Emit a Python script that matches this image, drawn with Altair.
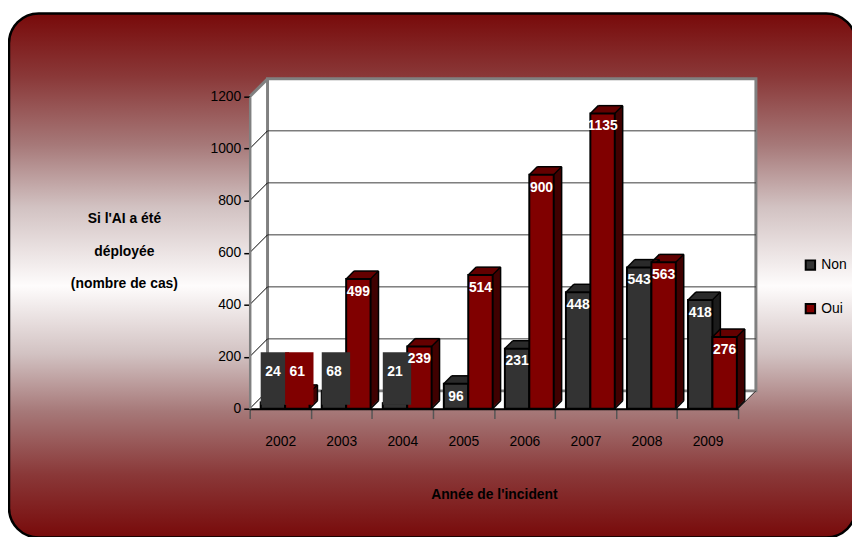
import json
import altair as alt
import pandas as pd

# ---------------- data ----------------
YEARS = ["2002", "2003", "2004", "2005", "2006", "2007", "2008", "2009"]
NON = [24, 68, 21, 96, 231, 448, 543, 418]
OUI = [61, 499, 239, 514, 900, 1135, 563, 276]
SERIES = ["Non", "Oui"]
Y_TICKS = [0, 200, 400, 600, 800, 1000, 1200]
GRID_TICKS = [200, 400, 600, 800, 1000]
WALL_TICKS = [0, 200, 400, 600, 800, 1000]
Y_TITLE = ["Si l'AI a été", "déployée", "(nombre de cas)"]
X_TITLE = "Année de l'incident"

rows = [{"year": y, "series": s, "value": v}
        for s, vals in zip(SERIES, [NON, OUI]) for y, v in zip(YEARS, vals)]
df = pd.DataFrame(rows)

# ---------------- style ----------------
W, H, D = 493, 315, 18      # plot area, wall depth
BD = 8                      # bar depth
FONT = "Liberation Sans"
FRONT = {"Non": "#333333", "Oui": "#800000"}
SIDE = {"Non": "#1c1c1c", "Oui": "#400000"}
TOP = {"Non": "#2b2b2b", "Oui": "#640000"}

yscale = alt.Scale(domain=[0, 1200], nice=False, zero=True)
xq = alt.Scale(domain=[0, len(YEARS)], nice=False, zero=False)
ONE = [{"a": 1}]


def cond(cmap):
    return alt.condition("datum.series === 'Non'", alt.value(cmap["Non"]), alt.value(cmap["Oui"]))


def bars_base():
    return (alt.Chart(df)
            .transform_calculate(xi=f"indexof({json.dumps(YEARS)}, datum.year)")
            .transform_calculate(xa="datum.xi + (datum.series === 'Non' ? 0.18 : 0.58)")
            .transform_calculate(xb="datum.xa + 0.4")
            .transform_calculate(xm="datum.xa + 0.2")
            .transform_calculate(lv="datum.value < 90 ? 190 : datum.value"))


def XQ(f):
    return alt.X(f"{f}:Q", scale=xq, axis=None)


def YQ(f):
    return alt.Y(f"{f}:Q", scale=yscale, axis=None)


layers = []

# background rounded panel with gradient
GRAD_STOPS = [(0, "#780a0a"), (0.12, "#8a3838"), (0.25, "#a67878"), (0.37, "#d2c2c2"),
              (0.52, "#fefcfc"), (0.65, "#d2c2c2"), (0.76, "#a67878"), (0.88, "#8a3838"),
              (1, "#780a0a")]
grad = alt.LinearGradient(
    gradient="linear", x1=0, x2=0, y1=0, y2=1,
    stops=[alt.GradientStop(offset=o, color=c) for o, c in GRAD_STOPS])
layers.append(alt.Chart(alt.Data(values=ONE)).mark_rect(
    cornerRadius=30, stroke="black", strokeWidth=2.5, fill=grad).encode(
    x=alt.value(-243), x2=alt.value(612), y=alt.value(-84), y2=alt.value(445)))

# white 3D box (walls + floor)
for k in range(0, D + 1):
    layers.append(alt.Chart(alt.Data(values=ONE)).mark_rect(color="white").encode(
        x=alt.value(k), x2=alt.value(W + k), y=alt.value(-k), y2=alt.value(H - k)))

# back wall border
layers.append(alt.Chart(alt.Data(values=ONE)).mark_rect(
    fillOpacity=0, stroke="#808080", strokeWidth=3).encode(
    x=alt.value(D), x2=alt.value(W + D), y=alt.value(-D), y2=alt.value(H - D)))
# top edge of left wall
layers.append(alt.Chart(alt.Data(values=ONE)).mark_rule(color="#808080", strokeWidth=3).encode(
    x=alt.value(0), x2=alt.value(D), y=alt.value(0), y2=alt.value(-D)))
# right edge of floor
layers.append(alt.Chart(alt.Data(values=ONE)).mark_rule(color="#333333", strokeWidth=1).encode(
    x=alt.value(W), x2=alt.value(W + D), y=alt.value(H), y2=alt.value(H - D)))

# gridlines on back wall
layers.append(alt.Chart(pd.DataFrame({"v": GRID_TICKS})).mark_rule(
    color="#3a3a3a", strokeWidth=1, yOffset=-D).encode(
    x=alt.value(D), x2=alt.value(W + D), y=YQ("v")))
# diagonals on left wall
layers.append(alt.Chart(pd.DataFrame({"v": WALL_TICKS})).mark_rule(
    color="black", strokeWidth=1, y2Offset=-D).encode(
    x=alt.value(0), x2=alt.value(D), y=YQ("v"), y2="v:Q"))

# year axis (band) layer
layers.append(alt.Chart(pd.DataFrame({"year": YEARS})).mark_point(opacity=0).encode(
    x=alt.X("year:N", sort=YEARS,
            scale=alt.Scale(type="band", domain=YEARS, paddingInner=0, paddingOuter=0),
            axis=alt.Axis(title=X_TITLE, labelAngle=0, tickBand="extent", tickSize=10,
                          tickColor="#555555", tickWidth=1.5, domainColor="black",
                          domainWidth=2, labelFont=FONT, labelFontSize=14,
                          labelColor="black", labelPadding=16, grid=False, zindex=2,
                          titleFont=FONT, titleFontSize=14, titleFontWeight="bold",
                          titleColor="black", titleY=87, titleBaseline="middle"))))

# value axis layer
yaxis = alt.Axis(values=Y_TICKS, format="d", title=Y_TITLE, titleAngle=0, titleAlign="center",
                 titleBaseline="middle", titleX=-127, titleY=123, titleLineHeight=33,
                 titleFont=FONT, titleFontSize=14, titleFontWeight="bold", titleColor="black",
                 labelFont=FONT, labelFontSize=14, labelColor="black", labelPadding=3,
                 tickSize=6, tickColor="black", tickWidth=1.5, domainColor="#808080",
                 domainWidth=2.5, grid=False, zindex=2)
layers.append(alt.Chart(pd.DataFrame({"t": Y_TICKS})).mark_point(opacity=0).encode(
    y=alt.Y("t:Q", scale=yscale, axis=yaxis)))

# bar extrusions (side faces)
for k in range(BD, 0, -1):
    layers.append(bars_base().mark_rect(
        xOffset=k, x2Offset=k, yOffset=-k, y2Offset=-k).encode(
        x=XQ("xa"), x2="xb:Q", y=YQ("value"), y2=alt.datum(0), color=cond(SIDE)))
# top faces
for k in range(BD, 0, -1):
    layers.append(bars_base().mark_rect(
        xOffset=k, x2Offset=k, yOffset=-k, y2Offset=-k + 1.5).encode(
        x=XQ("xa"), x2="xb:Q", y=YQ("value"), y2="value:Q", color=cond(TOP)))

# edges
EDGE = dict(color="black", strokeWidth=1.5)
layers.append(bars_base().mark_rule(x2Offset=BD, y2Offset=-BD, **EDGE).encode(
    x=XQ("xa"), x2="xa:Q", y=YQ("value"), y2="value:Q"))
layers.append(bars_base().mark_rule(x2Offset=BD, y2Offset=-BD, **EDGE).encode(
    x=XQ("xb"), x2="xb:Q", y=YQ("value"), y2="value:Q"))
layers.append(bars_base().mark_rule(xOffset=BD, x2Offset=BD, yOffset=-BD, y2Offset=-BD, **EDGE).encode(
    x=XQ("xa"), x2="xb:Q", y=YQ("value"), y2="value:Q"))
layers.append(bars_base().mark_rule(xOffset=BD, x2Offset=BD, yOffset=-BD, y2Offset=-BD, **EDGE).encode(
    x=XQ("xb"), x2="xb:Q", y=YQ("value"), y2=alt.datum(0)))
layers.append(bars_base().mark_rule(x2Offset=BD, y2Offset=-BD, **EDGE).encode(
    x=XQ("xb"), x2="xb:Q", y=alt.Y(datum=0, scale=yscale, axis=None), y2=alt.datum(0)))

# front faces with legend
layers.append(bars_base().mark_rect(stroke="black", strokeWidth=2).encode(
    x=XQ("xa"), x2="xb:Q",
    y=YQ("value"), y2=alt.datum(0),
    color=alt.Color("series:N",
                    scale=alt.Scale(domain=SERIES, range=[FRONT["Non"], FRONT["Oui"]]),
                    legend=alt.Legend(orient="none", legendX=559, legendY=163, title=None,
                                      symbolType="square", symbolSize=90,
                                      symbolStrokeColor="black", symbolStrokeWidth=2,
                                      labelFont=FONT, labelFontSize=14, labelColor="black",
                                      rowPadding=26, zindex=2))))

# label boxes for short bars
layers.append(bars_base().transform_filter("datum.value < 90").mark_rect(
    yOffset=-7, y2Offset=46, x2Offset=4).encode(
    x=XQ("xa"), x2="xb:Q", y=YQ("lv"), y2="lv:Q", color=cond(FRONT)))

# value labels
layers.append(bars_base().mark_text(
    color="white", font=FONT, fontWeight="bold", fontSize=14, dy=13,
    baseline="middle", align="center").encode(
    x=XQ("xm"), y=YQ("lv"), text="value:Q"))

chart = (alt.layer(*layers)
         .resolve_scale(x="independent", y="independent")
         .properties(width=W, height=H,
                     autosize=alt.AutoSizeParams(type="none"),
                     padding={"left": 244, "top": 87, "right": 115, "bottom": 127},
                     background="white")
         .configure_view(strokeWidth=0))

chart.save("out.html", embed_options={"renderer": "svg", "actions": False})
